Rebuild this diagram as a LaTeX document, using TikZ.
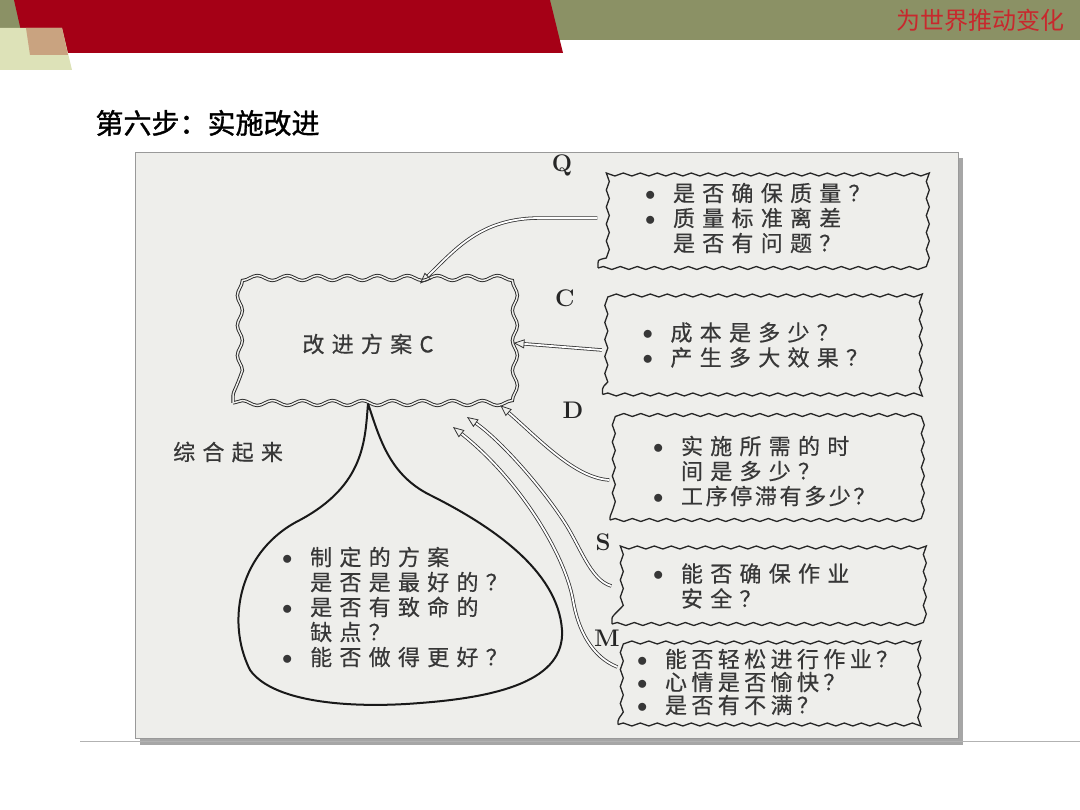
\documentclass[tikz,border=0pt]{standalone}
\usepackage{fontspec}
\newfontfamily\cjk{Noto Sans CJK SC}
\newfontfamily\titlefont[FakeBold=1.2]{Noto Sans CJK SC}
\newfontfamily\scan[LetterSpace=33,FakeBold=0.5]{Noto Sans CJK SC}
\usetikzlibrary{positioning,calc,arrows.meta,decorations.pathmorphing}

\definecolor{olive}{RGB}{139,145,101}
\definecolor{bannerred}{RGB}{165,0,22}
\definecolor{palegreen}{RGB}{221,226,184}
\definecolor{tan}{RGB}{201,163,128}
\definecolor{scanbg}{RGB}{238,238,235}
\definecolor{ink}{RGB}{55,55,55}
\definecolor{slogan}{RGB}{200,40,45}

\newcommand\bul{\makebox[28pt][l]{\raisebox{1pt}{$\bullet$}}}
\newcommand\ind{\hspace*{28pt}}

\tikzset{
  wavebox/.style={draw=black!85, line width=1.3pt, decorate,
    decoration={snake, segment length=17pt, amplitude=1.5pt},
    align=left, text=ink, font=\scan\fontsize{22}{25}\selectfont},
  planbox/.style={draw=black!85, line width=0.9pt, double=scanbg,
    double distance=1.5pt, decorate,
    decoration={snake, segment length=30pt, amplitude=2.5pt},
    text=ink, font=\scan\fontsize{22}{25}\selectfont},
  tag/.style={font=\fontsize{24}{24}\selectfont\bfseries, text=black!85},
  dblarrow/.style={draw=black!80, line width=0.8pt, double=white,
    double distance=1.8pt, -{Triangle[open,length=11pt,width=9pt]}},
  bagline/.style={draw=black!90, line width=2pt},
  plain/.style={text=ink, font=\scan\fontsize{22}{25}\selectfont, align=left}
}

\begin{document}
\begin{tikzpicture}[x=1pt,y=-1pt]
    \useasboundingbox (0,0) rectangle (1080,810);

    % banner
    \fill[olive] (0,0) rectangle (1080,40);
    \fill[bannerred] (14,0) -- (550,0) -- (563,53) -- (26,53) -- cycle;
    \fill[palegreen] (0,28) -- (62,28) -- (72,70) -- (0,70) -- cycle;
    \fill[tan] (26,28) -- (62,28) -- (68,55) -- (30,55) -- cycle;
    \path (1068,20) node [anchor=east, font=\cjk\fontsize{24}{24}\selectfont,
	text=slogan] (slogan) {为世界推动变化};

    \path (92,123) node [anchor=west, font=\titlefont\fontsize{28}{28}\selectfont]
	(title) {第六步：实施改进};

    % scanned page
    \fill[black!35] (140,158) rectangle (963,745);
    \fill[scanbg] (135,152) rectangle (958,738);
    \draw[black!40, line width=0.6pt] (135,152) rectangle (958,738);
    \draw[black!30, line width=1pt] (80,741) -- (1080,741);

    % improvement plan and the bag below it
    \path (368,344) node [planbox, minimum width=270pt, minimum height=118pt]
	(plan) {改进方案C};
    \draw [bagline] (plan.south) .. controls (365,440) and (365,485) .. (300,520)
	.. controls (240,550) and (225,620) .. (250,670)
	.. controls (275,705) and (360,708) .. (420,703)
	.. controls (500,697) and (565,680) .. (562,630)
	.. controls (558,570) and (490,525) .. (430,495)
	.. controls (390,475) and (380,440) .. (plan.south);
    \path (282,607) node [plain, anchor=west, inner sep=0pt] (bagtext)
	{\bul 制定的方案\\ \ind 是否是最好的？\\ \bul 是否有致命的\\ \ind 缺点？\\ \bul 能否做得更好？};
    \path (173,452) node [plain, anchor=west, inner sep=0pt] (sum) {综合起来};

    % QCDSM boxes
    \path (758,218) node [wavebox, text width=226pt, inner xsep=47pt,
	minimum height=100pt] (q)
	{\bul 是否确保质量？\\ \bul 质量标准离差\\ \ind 是否有问题？};
    \path (761,345) node [wavebox, text width=237pt, inner xsep=40pt,
	minimum height=99pt] (c)
	{\bul 成本是多少？\\ \bul 产生多大效果？};
    \path (764,471) node [wavebox, text width=222pt, inner xsep=43pt,
	minimum height=98pt] (d)
	{\bul 实施所需的时\\ \ind 间是多少？\\
	\bul {\addfontfeature{LetterSpace=12}工序停滞有多少？}};
    \path (765,586) node [wavebox, text width=224pt, inner xsep=41pt,
	minimum height=76pt] (s)
	{\bul 能否确保作业\\ \ind 安全？};
    \path (766,682) node [wavebox, text width=258pt, inner xsep=19pt,
	minimum height=85pt, font=\scan\addfontfeature{LetterSpace=20}\fontsize{22}{23}\selectfont] (m)
	{\bul 能否轻松进行作业？\\ \bul 心情是否愉快？\\ \bul 是否有不满？};

    \path (562,165) node [tag] (tq) {Q};
    \path (565,298) node [tag] (tc) {C};
    \path (573,410) node [tag] (td) {D};
    \path (603,542) node [tag] (ts) {S};
    \path (607,638) node [tag] (tm) {M};

    % arrows back to the plan
    \draw [dblarrow] (q.west) -- (540,218) .. controls (480,218) and (455,250)
	.. ($(plan.north)+(52,-1)$);
    \draw [dblarrow] ($(c.west)+(0,5)$) -- ($(plan.east)+(10,-1)$);
    \draw [dblarrow] ($(d.west)+(0,9)$) .. controls (575,478) and (540,440)
	.. ($(plan.south east)+(-3,2)$);
    \draw [dblarrow] (s.west) .. controls (590,580) and (580,545) .. (563,520)
	.. controls (540,485) and (500,440) .. (467,417);
    \draw [dblarrow] ($(m.west)+(0,-15)$) .. controls (592,657) and (578,630) .. (573,600)
	.. controls (565,555) and (520,480) .. (453,427);
\end{tikzpicture}
\end{document}
